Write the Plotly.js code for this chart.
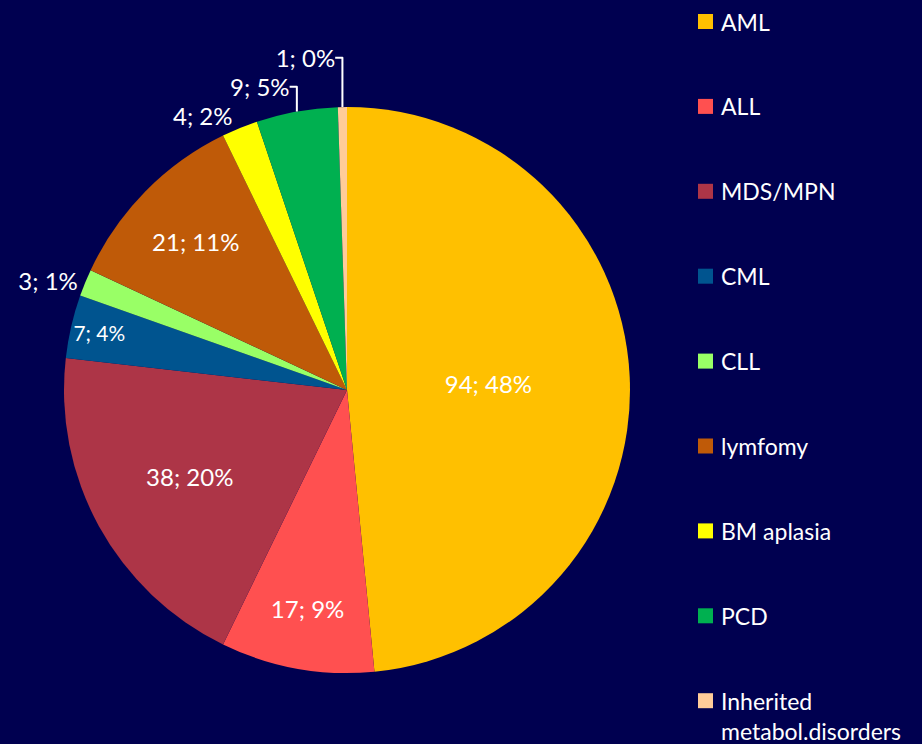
<!DOCTYPE html>
<html>
<head>
<meta charset="utf-8">
<script src="https://cdn.plot.ly/plotly-3.0.1.min.js"></script>
<style>html,body{margin:0;padding:0;background:#000050;}</style>
</head>
<body>
<div id="chart" style="width:922px;height:744px;"></div>
<script>
const categories = ["AML", "ALL", "MDS/MPN", "CML", "CLL", "lymfomy", "BM aplasia", "PCD", "Inherited metabol.disorders"];
const legendLabels = ["AML", "ALL", "MDS/MPN", "CML", "CLL", "lymfomy", "BM aplasia", "PCD", "Inherited<br>metabol.disorders"];
const counts = [94, 17, 38, 7, 3, 21, 4, 9, 1];
const percentLabels = ["48%", "9%", "20%", "4%", "1%", "11%", "2%", "5%", "0%"];
const colors = ["#FFC000", "#FF5050", "#AD3547", "#00548F", "#99FF66", "#BF5A08", "#FFFF00", "#00B050", "#FFCC99"];
const textPositions = ["inside", "inside", "inside", "inside", "outside", "inside", "outside", "outside", "outside"];

const W = 922, H = 744;
const M = {l: 64, r: 292, t: 107, b: 71};
const pw = W - M.l - M.r, ph = H - M.t - M.b;
const px = x => (x - M.l) / pw;
const py = y => 1 - (y - M.t) / ph;
const FONT = "Lato, 'Open Sans', sans-serif";

const trace = {
  type: "pie",
  labels: categories,
  values: counts,
  text: percentLabels,
  texttemplate: "%{value}; %{text}",
  textposition: textPositions,
  insidetextorientation: "horizontal",
  sort: false,
  direction: "clockwise",
  rotation: 0,
  marker: {colors: colors, line: {width: 0}},
  textfont: {family: FONT, size: 24, color: "#ffffff"},
  insidetextfont: {family: FONT, size: 24, color: "#ffffff"},
  outsidetextfont: {family: FONT, size: 24, color: "#ffffff"},
  showlegend: false,
  hoverinfo: "label+value+percent"
};

const annotations = [];
const shapes = [];
legendLabels.forEach((lab, i) => {
  const cy = 21.5 + 84.9 * i;
  shapes.push({
    type: "rect", xref: "paper", yref: "paper",
    x0: px(698), x1: px(713), y0: py(cy - 7.5), y1: py(cy + 7.5),
    fillcolor: colors[i], line: {width: 0}
  });
  annotations.push({
    xref: "paper", yref: "paper",
    x: px(719), y: py(cy - 16),
    xanchor: "left", yanchor: "top", align: "left",
    text: lab, showarrow: false,
    font: {family: FONT, size: 23, color: "#ffffff"}
  });
});

const layout = {
  width: W, height: H,
  margin: M,
  paper_bgcolor: "#000050",
  plot_bgcolor: "#000050",
  showlegend: false,
  annotations: annotations,
  shapes: shapes
};

Plotly.newPlot("chart", [trace], layout, {displayModeBar: false, staticPlot: true});
</script>
</body>
</html>
